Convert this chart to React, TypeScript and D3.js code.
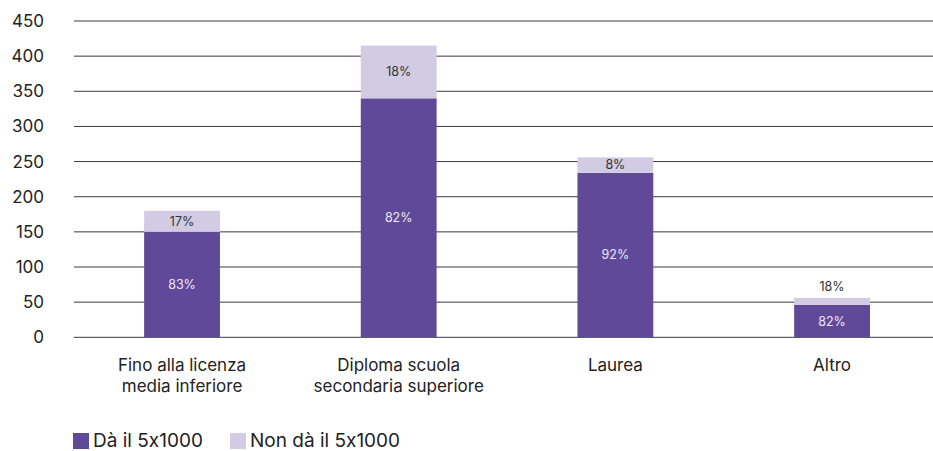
import React from "react";
import * as d3 from "d3";

const categories: string[][] = [
  ["Fino alla licenza", "media inferiore"],
  ["Diploma scuola", "secondaria superiore"],
  ["Laurea"],
  ["Altro"],
];
const daValues = [150, 340, 234, 46];
const nonDaValues = [30, 75, 22, 10];
const daLabels = ["83%", "82%", "92%", "82%"];
const nonDaLabels = ["17%", "18%", "8%", "18%"];
const yTicks = [0, 50, 100, 150, 200, 250, 300, 350, 400, 450];
const seriesNames = ["Dà il 5x1000", "Non dà il 5x1000"];

const W = 933;
const H = 451;
const DARK = "#61499a";
const LIGHT = "#d1cbe3";
const FONT = "Inter, 'Noto Sans', sans-serif";

export default function App() {
  const y = d3.scaleLinear().domain([0, 450]).range([337.3, 21]);
  const x = d3
    .scaleBand<number>()
    .domain(categories.map((_, i) => i))
    .range([73.7, 940.4])
    .paddingInner(0.65)
    .paddingOuter(0.325);
  const bw = x.bandwidth();

  return (
    <svg
      width={W}
      height={H}
      style={{
        position: "absolute",
        left: 0,
        top: 0,
        background: "#fff",
        fontFeatureSettings: '"calt" 0, "liga" 0',
      }}
      fontFamily={FONT}
    >
      {yTicks.map((t) => (
        <g key={t}>
          <line x1={74} x2={W} y1={y(t)} y2={y(t)} stroke="#3a3a3a" strokeWidth={1} />
          <text x={44} y={y(t)} dy="0.35em" textAnchor="end" fontSize={17} fill="#222">
            {t}
          </text>
        </g>
      ))}
      {categories.map((cat, i) => {
        const x0 = x(i) as number;
        const cx = x0 + bw / 2;
        const yDa = y(daValues[i]);
        const yTop = y(daValues[i] + nonDaValues[i]);
        const lightH = yDa - yTop;
        const lightLabelY = lightH < 12 ? yTop - 11 : (yTop + yDa) / 2;
        return (
          <g key={i}>
            <rect x={x0} y={yDa} width={bw} height={y(0) - yDa} fill={DARK} />
            <rect x={x0} y={yTop} width={bw} height={lightH} fill={LIGHT} />
            <text x={cx} y={(yDa + y(0)) / 2} dy="0.35em" textAnchor="middle" fontSize={12.5} fill="#ece8f4">
              {daLabels[i]}
            </text>
            <text x={cx} y={lightLabelY} dy="0.35em" textAnchor="middle" fontSize={12.5} fill="#333">
              {nonDaLabels[i]}
            </text>
            {cat.map((line, j) => (
              <text key={j} x={cx} y={365 + j * 21} dy="0.35em" textAnchor="middle" fontSize={17} fill="#222">
                {line}
              </text>
            ))}
          </g>
        );
      })}
      <g>
        <rect x={73} y={433} width={16} height={16} fill={DARK} />
        <text x={93} y={440} dy="0.35em" fontSize={19} fill="#222">
          {seriesNames[0]}
        </text>
        <rect x={230} y={433} width={16} height={16} fill={LIGHT} />
        <text x={250} y={440} dy="0.35em" fontSize={19} fill="#222">
          {seriesNames[1]}
        </text>
      </g>
    </svg>
  );
}
